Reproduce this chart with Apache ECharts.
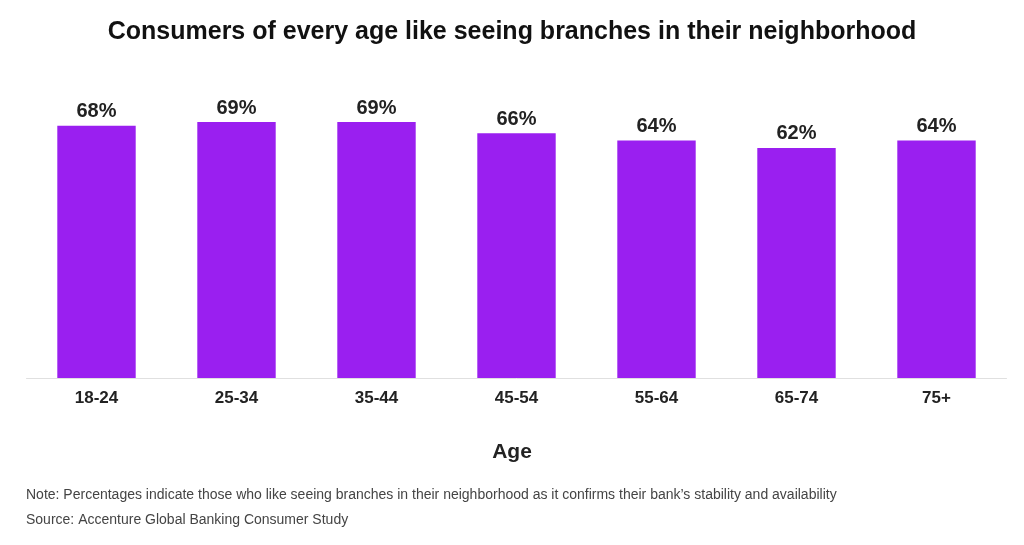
<!DOCTYPE html>
<html>
<head>
<meta charset="utf-8">
<script src="https://cdn.jsdelivr.net/npm/echarts@6/dist/echarts.min.js"></script>
<style>
html,body{margin:0;padding:0;background:#fff;}
#chart{width:1024px;height:545px;}
</style>
</head>
<body>
<div id="chart"></div>
<script>
const categories = ['18-24', '25-34', '35-44', '45-54', '55-64', '65-74', '75+'];
const values = [68, 69, 69, 66, 64, 62, 64];
const titleText = 'Consumers of every age like seeing branches in their neighborhood';
const axisName = 'Age';
const noteText = 'Note: Percentages indicate those who like seeing branches in their neighborhood as it confirms their bank\u2019s stability and availability';
const sourceText = 'Source: Accenture Global Banking Consumer Study';

const chart = echarts.init(document.getElementById('chart'), null, {renderer: 'canvas'});
const font = '"Liberation Sans", Arial, sans-serif';
chart.setOption({
  animation: false,
  backgroundColor: '#fff',
  title: [
    {text: titleText, left: 'center', top: 15,
     textStyle: {fontFamily: font, fontSize: 25, fontWeight: 'bold', color: '#111'}},
    {text: axisName, left: 'center', top: 437,
     textStyle: {fontFamily: font, fontSize: 21, fontWeight: 'bold', color: '#222'}},
    {text: noteText, left: 21, top: 483,
     textStyle: {fontFamily: font, fontSize: 14, fontWeight: 'normal', color: '#444'}},
    {text: sourceText, left: 21, top: 508,
     textStyle: {fontFamily: font, fontSize: 14, fontWeight: 'normal', color: '#444'}}
  ],
  grid: {left: 26.5, right: 17.5, top: 7, bottom: 167, containLabel: false},
  xAxis: {
    type: 'category',
    data: categories,
    axisLine: {show: true, lineStyle: {color: '#e0e0e0', width: 1}},
    axisTick: {show: false},
    axisLabel: {margin: 12, fontFamily: font, fontSize: 17, fontWeight: 'bold', color: '#222'}
  },
  yAxis: {
    type: 'value', min: 0, max: 100,
    show: false,
    splitLine: {show: false}
  },
  series: [{
    type: 'bar',
    data: values,
    barWidth: '56%',
    itemStyle: {color: '#9a1ff0'},
    label: {
      show: true, position: 'top', distance: 4,
      formatter: p => p.value + '%',
      fontFamily: font, fontSize: 20, fontWeight: 'bold', color: '#222'
    }
  }]
});
</script>
</body>
</html>
